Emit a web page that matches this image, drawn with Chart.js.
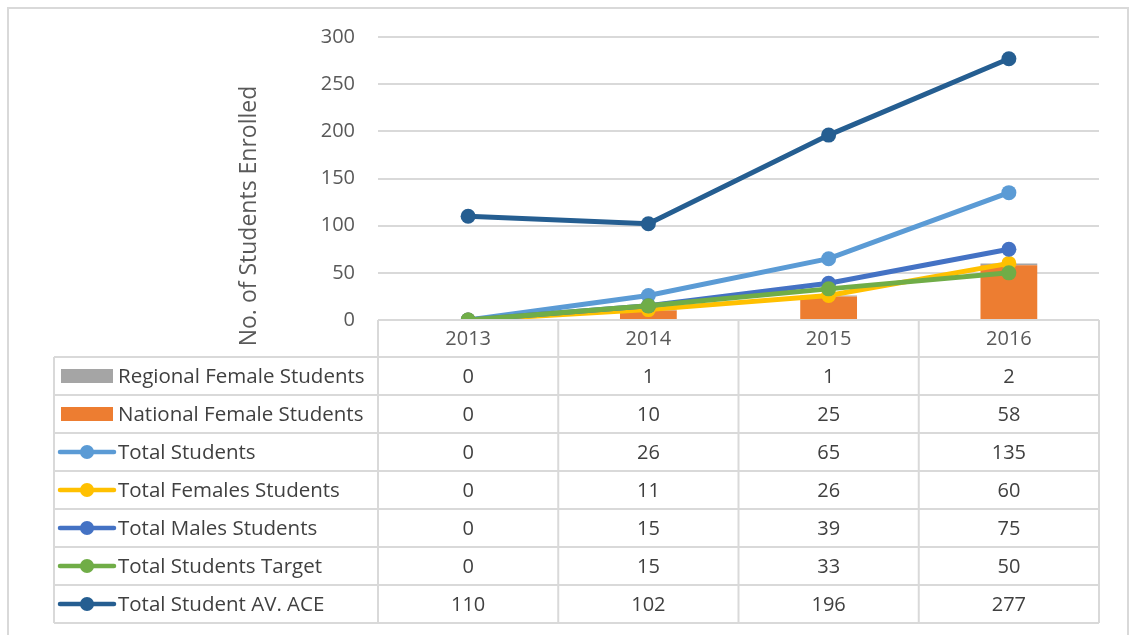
<!DOCTYPE html>
<html>
<head>
<meta charset="utf-8">
<script src="https://cdn.jsdelivr.net/npm/chart.js@4.4.0/dist/chart.umd.min.js"></script>
<style>
  html, body { margin: 0; padding: 0; background: #fff; }
</style>
</head>
<body>
<canvas id="chart" width="1130" height="635"></canvas>
<script>
// Data
const years = ["2013", "2014", "2015", "2016"];
const regionalFemale = [0, 1, 1, 2];
const nationalFemale = [0, 10, 25, 58];
const totalStudents = [0, 26, 65, 135];
const totalFemales = [0, 11, 26, 60];
const totalMales = [0, 15, 39, 75];
const studentsTarget = [0, 15, 33, 50];
const studentAvAce = [110, 102, 196, 277];
const yTicks = [0, 50, 100, 150, 200, 250, 300];
const yTitle = "No. of Students Enrolled";

const FONT = "'Open Sans', sans-serif";
const TEXT = "#595959";
const GRID = "#D9D9D9";

function lineSet(label, data, color, order) {
    return {
        type: 'line',
        label: label,
        data: data,
        borderColor: color,
        backgroundColor: color,
        borderWidth: 5,
        pointRadius: 7.5,
        pointBorderWidth: 0,
        pointBackgroundColor: color,
        stack: 'line' + order,
        order: order,
        tension: 0
    };
}

// datasets are listed in the same order as the rows of the data table
const datasets = [
    { type: 'bar', label: "Regional Female Students", data: regionalFemale, backgroundColor: "#A5A5A5", stack: 'bars', order: 11 },
    { type: 'bar', label: "National Female Students", data: nationalFemale, backgroundColor: "#ED7D31", stack: 'bars', order: 10 },
    lineSet("Total Students", totalStudents, "#5B9BD5", 5),
    lineSet("Total Females Students", totalFemales, "#FFC000", 4),
    lineSet("Total Males Students", totalMales, "#4472C4", 3),
    lineSet("Total Students Target", studentsTarget, "#70AD47", 2),
    lineSet("Total Student AV. ACE", studentAvAce, "#255E91", 1)
];

// Draws the outer frame, the axis title and the data table under the plot
const dataTable = {
    id: 'dataTable',
    beforeDraw(chart) {
        const ctx = chart.ctx;
        ctx.save();
        ctx.fillStyle = "#fff";
        ctx.fillRect(0, 0, chart.width, chart.height);
        ctx.strokeStyle = GRID;
        ctx.lineWidth = 2;
        ctx.strokeRect(8, 8, 1120, 660);
        ctx.restore();
    },
    afterDraw(chart) {
        const ctx = chart.ctx;
        const area = chart.chartArea;
        const xs = chart.scales.x;
        const step = (area.right - area.left) / years.length;
        const headH = 37, rowH = 38, tableLeft = 54;
        const top = area.bottom;
        const rowsTop = top + headH;
        const bottom = rowsTop + rowH * datasets.length;

        ctx.save();
        // axis title
        ctx.fillStyle = TEXT;
        ctx.font = "23px " + FONT;
        ctx.textAlign = "center";
        ctx.textBaseline = "middle";
        ctx.translate(249, 216);
        ctx.rotate(-Math.PI / 2);
        ctx.fillText(yTitle, 0, 0);
        ctx.restore();

        ctx.save();
        ctx.strokeStyle = GRID;
        ctx.lineWidth = 2;
        ctx.beginPath();
        ctx.moveTo(area.left, top);
        ctx.lineTo(area.right, top);
        for (let r = 0; r <= datasets.length; r++) {
            ctx.moveTo(tableLeft, rowsTop + r * rowH);
            ctx.lineTo(area.right, rowsTop + r * rowH);
        }
        ctx.moveTo(tableLeft, rowsTop);
        ctx.lineTo(tableLeft, bottom);
        for (let c = 0; c <= years.length; c++) {
            const x = area.left + c * step;
            ctx.moveTo(x, top);
            ctx.lineTo(x, bottom);
        }
        ctx.stroke();

        ctx.font = "20px " + FONT;
        ctx.fillStyle = TEXT;
        ctx.textAlign = "center";
        ctx.textBaseline = "middle";
        years.forEach((y, i) => {
            ctx.fillText(y, xs.getPixelForValue(i), top + headH / 2 + 1);
        });

        datasets.forEach((ds, r) => {
            const cy = rowsTop + r * rowH + rowH / 2;
            // legend key
            if (ds.type === 'bar') {
                ctx.fillStyle = ds.backgroundColor;
                ctx.fillRect(61, cy - 7, 52, 14);
            } else {
                ctx.strokeStyle = ds.borderColor;
                ctx.lineWidth = 4.5;
                ctx.lineCap = "round";
                ctx.beginPath();
                ctx.moveTo(60, cy);
                ctx.lineTo(114, cy);
                ctx.stroke();
                ctx.fillStyle = ds.borderColor;
                ctx.beginPath();
                ctx.arc(87, cy, 7, 0, Math.PI * 2);
                ctx.fill();
            }
            ctx.fillStyle = "#404040";
            ctx.textAlign = "left";
            ctx.font = "20.5px " + FONT;
            ctx.fillText(ds.label, 118, cy + 1);
            ctx.textAlign = "center";
            ctx.font = "20px " + FONT;
            ds.data.forEach((v, i) => {
                ctx.fillText(String(v), xs.getPixelForValue(i), cy + 1);
            });
        });
        ctx.restore();
    }
};

const config = {
    data: { labels: years, datasets: datasets },
    options: {
        responsive: false,
        animation: false,
        layout: { padding: { left: 0, top: 37, right: 31, bottom: 0 } },
        datasets: {
            bar: { barPercentage: 0.315, categoryPercentage: 1.0 }
        },
        plugins: {
            legend: { display: false },
            tooltip: { enabled: false }
        },
        scales: {
            x: {
                type: 'category',
                stacked: true,
                offset: true,
                grid: { display: false },
                border: { display: false },
                ticks: { display: false },
                afterFit: function(scale) { scale.height = 315; }
            },
            y: {
                stacked: true,
                min: 0,
                max: 300,
                border: { display: false },
                grid: { color: GRID, lineWidth: 2, drawTicks: false },
                ticks: {
                    color: TEXT,
                    padding: 23,
                    font: { family: FONT, size: 20 }
                },
                afterBuildTicks: function(scale) {
                    scale.ticks = yTicks.map(v => ({ value: v }));
                },
                afterFit: function(scale) {
                    scale.width = 378;
                    scale.paddingTop = 0;
                    scale.paddingBottom = 0;
                }
            }
        }
    },
    plugins: [dataTable]
};

const myChart = new Chart(document.getElementById("chart"), config);
</script>
</body>
</html>
